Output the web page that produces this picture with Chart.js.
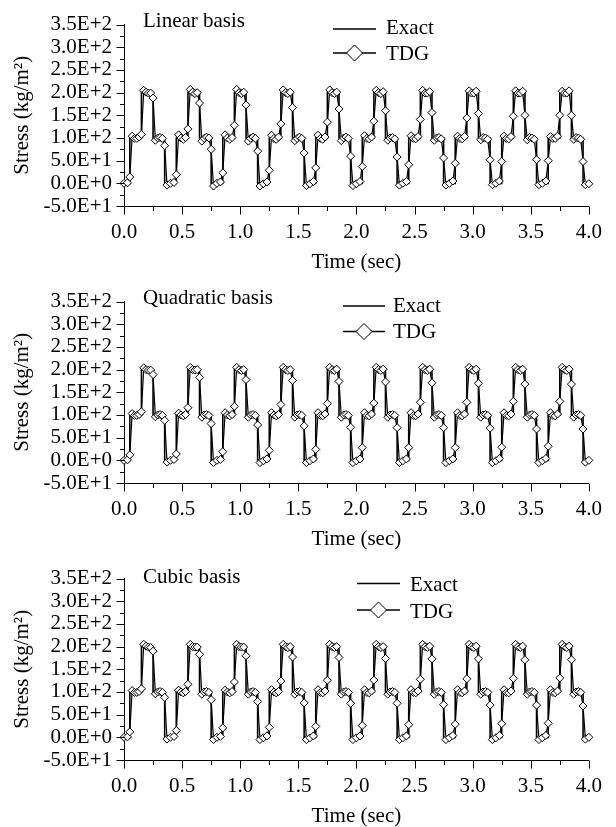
<!DOCTYPE html>
<html>
<head>
<meta charset="utf-8">
<script src="https://cdn.jsdelivr.net/npm/chart.js@4.4.1/dist/chart.umd.min.js"></script>
<style>
  html, body { margin: 0; padding: 0; background: #fff; overflow: hidden; }
  .panel { width: 616px; height: 277px; }
  canvas { display: block; }
</style>
</head>
<body>
<div class="panel"><canvas id="linear" width="616" height="277"></canvas></div>
<div class="panel"><canvas id="quadratic" width="616" height="277"></canvas></div>
<div class="panel"><canvas id="cubic" width="616" height="277"></canvas></div>
<script>
// axis ticks
const xTicks = [0, 0.5, 1.0, 1.5, 2.0, 2.5, 3.0, 3.5, 4.0];
const xMinor = [0.25, 0.75, 1.25, 1.75, 2.25, 2.75, 3.25, 3.75];
const yTicks = [-50, 0, 50, 100, 150, 200, 250, 300, 350];
const yMinor = [-25, 25, 75, 125, 175, 225, 275, 325];

// exact solution (stepped, value holds until next time)
const exactTime = [0, 0.05, 0.15, 0.25, 0.35, 0.45, 0.55, 0.65, 0.75, 0.85, 0.95,
  1.05, 1.15, 1.25, 1.35, 1.45, 1.55, 1.65, 1.75, 1.85, 1.95,
  2.05, 2.15, 2.25, 2.35, 2.45, 2.55, 2.65, 2.75, 2.85, 2.95,
  3.05, 3.15, 3.25, 3.35, 3.45, 3.55, 3.65, 3.75, 3.85, 3.95, 4.0];
const exactStress = [0,
  100, 200, 100, 0, 100, 200, 100, 0, 100, 200, 100, 0, 100, 200, 100, 0,
  100, 200, 100, 0, 100, 200, 100, 0, 100, 200, 100, 0, 100, 200, 100, 0,
  100, 200, 100, 0, 100, 200, 100, 0, 0];

// TDG output times
const tdgTime = [
  0.00, 0.03, 0.05, 0.07, 0.09, 0.11, 0.13, 0.15, 0.17, 0.19, 0.21, 0.23, 0.25, 0.27, 0.29, 0.31, 0.33, 0.35, 0.37,
  0.40, 0.43, 0.45, 0.47, 0.49, 0.51, 0.53, 0.55, 0.57, 0.59, 0.61, 0.63, 0.65, 0.67, 0.69, 0.71, 0.73, 0.75, 0.77,
  0.80, 0.83, 0.85, 0.87, 0.89, 0.91, 0.93, 0.95, 0.97, 0.99, 1.01, 1.03, 1.05, 1.07, 1.09, 1.11, 1.13, 1.15, 1.17,
  1.20, 1.23, 1.25, 1.27, 1.29, 1.31, 1.33, 1.35, 1.37, 1.39, 1.41, 1.43, 1.45, 1.47, 1.49, 1.51, 1.53, 1.55, 1.57,
  1.60, 1.63, 1.65, 1.67, 1.69, 1.71, 1.73, 1.75, 1.77, 1.79, 1.81, 1.83, 1.85, 1.87, 1.89, 1.91, 1.93, 1.95, 1.97,
  2.00, 2.03, 2.05, 2.07, 2.09, 2.11, 2.13, 2.15, 2.17, 2.19, 2.21, 2.23, 2.25, 2.27, 2.29, 2.31, 2.33, 2.35, 2.37,
  2.40, 2.43, 2.45, 2.47, 2.49, 2.51, 2.53, 2.55, 2.57, 2.59, 2.61, 2.63, 2.65, 2.67, 2.69, 2.71, 2.73, 2.75, 2.77,
  2.80, 2.83, 2.85, 2.87, 2.89, 2.91, 2.93, 2.95, 2.97, 2.99, 3.01, 3.03, 3.05, 3.07, 3.09, 3.11, 3.13, 3.15, 3.17,
  3.20, 3.23, 3.25, 3.27, 3.29, 3.31, 3.33, 3.35, 3.37, 3.39, 3.41, 3.43, 3.45, 3.47, 3.49, 3.51, 3.53, 3.55, 3.57,
  3.60, 3.63, 3.65, 3.67, 3.69, 3.71, 3.73, 3.75, 3.77, 3.79, 3.81, 3.83, 3.85, 3.87, 3.89, 3.91, 3.93, 3.95, 3.97,
  4.00];

const tdgLinear = [
  0, 1, 14, 104, 99, 99, 102, 108, 205, 201, 199, 199, 188, 95, 100, 101, 99, 83, -4,
  0, 2, 19, 107, 100, 97, 101, 120, 207, 201, 198, 200, 177, 93, 99, 102, 100, 75, -6,
  0, 3, 23, 107, 100, 97, 101, 128, 207, 200, 198, 201, 173, 93, 99, 102, 99, 71, -6,
  -1, 3, 29, 106, 99, 97, 102, 131, 206, 200, 198, 201, 167, 94, 99, 102, 99, 67, -5,
  -1, 4, 34, 106, 99, 97, 102, 135, 206, 200, 198, 201, 164, 94, 100, 102, 99, 60, -5,
  -1, 4, 37, 105, 99, 98, 102, 137, 205, 200, 198, 202, 160, 95, 100, 101, 98, 58, -4,
  0, 4, 41, 105, 99, 98, 103, 141, 205, 199, 199, 202, 156, 95, 100, 101, 98, 56, -4,
  0, 5, 44, 104, 99, 98, 103, 144, 204, 199, 199, 203, 154, 96, 101, 100, 97, 52, -3,
  0, 5, 48, 104, 99, 98, 103, 148, 204, 199, 199, 203, 150, 96, 101, 100, 97, 52, -3,
  0, 5, 50, 103, 99, 99, 104, 150, 203, 199, 199, 204, 150, 97, 101, 100, 97, 48, -3,
  -1];

const tdgQuadratic = [
  0, 1, 12, 103, 99, 99, 101, 107, 204, 200, 199, 199, 189, 96, 100, 101, 99, 88, -4,
  0, 2, 14, 104, 100, 98, 101, 116, 205, 200, 199, 200, 183, 95, 100, 101, 99, 81, -5,
  0, 2, 19, 105, 100, 98, 101, 119, 205, 200, 198, 200, 178, 95, 100, 101, 99, 78, -5,
  -1, 3, 22, 105, 100, 98, 101, 123, 205, 200, 198, 200, 176, 95, 100, 101, 99, 76, -5,
  -1, 3, 24, 105, 99, 98, 102, 125, 205, 200, 198, 201, 174, 95, 100, 101, 99, 73, -5,
  -1, 3, 28, 105, 99, 98, 102, 126, 205, 200, 198, 201, 173, 95, 100, 101, 99, 72, -5,
  -1, 3, 28, 105, 99, 98, 102, 128, 205, 200, 198, 201, 171, 95, 100, 101, 99, 72, -5,
  -1, 3, 28, 105, 99, 98, 102, 128, 205, 200, 198, 201, 170, 95, 100, 101, 99, 71, -5,
  -1, 4, 29, 105, 99, 98, 102, 130, 205, 200, 198, 201, 168, 95, 100, 101, 99, 69, -5,
  -1, 4, 31, 105, 99, 98, 102, 130, 205, 200, 198, 201, 168, 95, 100, 101, 99, 69, -4,
  0];

const tdgCubic = [
  0, 1, 12, 103, 99, 99, 101, 107, 205, 201, 199, 198, 190, 96, 100, 101, 99, 88, -4,
  0, 2, 15, 104, 100, 98, 101, 117, 205, 200, 199, 199, 183, 95, 100, 101, 99, 83, -5,
  0, 2, 21, 104, 100, 98, 101, 122, 205, 200, 199, 199, 180, 95, 100, 101, 99, 79, -5,
  -1, 3, 22, 105, 100, 98, 101, 124, 205, 200, 198, 200, 177, 95, 100, 101, 99, 76, -5,
  -1, 3, 24, 105, 99, 98, 102, 126, 205, 200, 198, 200, 176, 95, 100, 101, 99, 75, -5,
  -1, 3, 26, 105, 99, 98, 102, 126, 205, 200, 198, 200, 174, 95, 100, 101, 99, 75, -5,
  -1, 3, 28, 105, 99, 98, 102, 128, 205, 200, 198, 201, 173, 95, 100, 101, 99, 72, -5,
  -1, 4, 29, 105, 99, 98, 102, 129, 205, 200, 198, 201, 173, 95, 100, 101, 99, 71, -5,
  -1, 4, 30, 105, 99, 98, 102, 130, 205, 200, 198, 201, 171, 95, 100, 101, 99, 71, -5,
  -1, 4, 31, 105, 99, 98, 102, 131, 205, 200, 198, 201, 171, 95, 100, 101, 99, 69, -4,
  0];

const FONT_FAMILY = '"Liberation Serif", "Times New Roman", serif';
const FONT_SIZE = 21;
const font = { family: FONT_FAMILY, size: FONT_SIZE };

// draws minor/major ticks, the panel caption and the hand-placed legend
const decor = {
  id: 'decor',
  afterDraw(chart, args, opts) {
    const { ctx, chartArea } = chart;
    const x = chart.scales.x;
    const y = chart.scales.y;
    ctx.save();
    ctx.strokeStyle = '#000';
    ctx.lineWidth = 1;
    ctx.beginPath();
    const bottom = Math.round(chartArea.bottom) + 0.5;
    const left = Math.round(chartArea.left) + 0.5;
    xTicks.forEach(v => {
      const px = Math.round(x.getPixelForValue(v)) + 0.5;
      ctx.moveTo(px, bottom); ctx.lineTo(px, bottom + 8);
    });
    xMinor.forEach(v => {
      const px = Math.round(x.getPixelForValue(v)) + 0.5;
      ctx.moveTo(px, bottom); ctx.lineTo(px, bottom + 4.5);
    });
    yTicks.forEach(v => {
      const py = Math.round(y.getPixelForValue(v)) + 0.5;
      ctx.moveTo(left, py); ctx.lineTo(left - 8, py);
    });
    yMinor.forEach(v => {
      const py = Math.round(y.getPixelForValue(v)) + 0.5;
      ctx.moveTo(left, py); ctx.lineTo(left - 4.5, py);
    });
    ctx.stroke();

    ctx.fillStyle = '#000';
    ctx.font = FONT_SIZE + 'px ' + FONT_FAMILY;
    ctx.textBaseline = 'alphabetic';
    ctx.textAlign = 'left';
    ctx.fillText(opts.caption, 143, opts.captionY);

    const lg = opts.legend;
    ctx.lineWidth = 1.4;
    ctx.beginPath();
    ctx.moveTo(lg.x0, lg.exactY); ctx.lineTo(lg.x1, lg.exactY);
    ctx.moveTo(lg.x0, lg.tdgY); ctx.lineTo(lg.x1, lg.tdgY);
    ctx.stroke();
    const dx = (lg.x0 + lg.x1) / 2, r = 8;
    ctx.beginPath();
    ctx.moveTo(dx - r, lg.tdgY); ctx.lineTo(dx, lg.tdgY - r);
    ctx.lineTo(dx + r, lg.tdgY); ctx.lineTo(dx, lg.tdgY + r);
    ctx.closePath();
    ctx.fillStyle = '#fff';
    ctx.fill();
    ctx.lineWidth = 1;
    ctx.stroke();
    ctx.fillStyle = '#000';
    ctx.fillText('Exact', lg.textX, lg.exactText);
    ctx.fillText('TDG', lg.textX, lg.tdgText);
    ctx.restore();
  }
};

function drawPanel(id, values, caption, captionY, legend) {
  const tdgPoints = tdgTime.map((t, i) => ({ x: t, y: values[i] }));
  const exactPoints = exactTime.map((t, i) => ({ x: t, y: exactStress[i] }));

  new Chart(document.getElementById(id), {
    type: 'line',
    data: {
      datasets: [
        {
          label: 'TDG',
          data: tdgPoints,
          borderColor: '#000',
          borderWidth: 1.2,
          pointStyle: 'rectRot',
          pointRadius: 4,
          pointBorderWidth: 1,
          pointBackgroundColor: '#fff',
          pointBorderColor: '#000',
          tension: 0,
          clip: false
        },
        {
          label: 'Exact',
          data: exactPoints,
          borderColor: '#000',
          borderWidth: 1.6,
          stepped: 'before',
          pointRadius: 0,
          clip: false
        }
      ]
    },
    options: {
      responsive: false,
      animation: false,
      events: [],
      layout: { padding: { top: 14, right: 24, left: 0, bottom: 0 } },
      plugins: {
        legend: { display: false },
        tooltip: { enabled: false },
        decor: { caption, captionY, legend }
      },
      scales: {
        x: {
          type: 'linear',
          min: 0,
          max: 4,
          afterBuildTicks: s => { s.ticks = xTicks.map(v => ({ value: v })); },
          afterFit: s => { s.height = 71; },
          grid: { drawOnChartArea: false, drawTicks: false },
          border: { display: true, color: '#000', width: 1 },
          ticks: {
            color: '#000', font, padding: 14, autoSkip: false, maxRotation: 0,
            callback: v => Number(v).toFixed(1)
          },
          title: {
            display: true, text: 'Time (sec)', color: '#000', font,
            padding: { top: 0, bottom: 2 }
          }
        },
        y: {
          type: 'linear',
          min: -50,
          max: 350,
          afterBuildTicks: s => { s.ticks = yTicks.map(v => ({ value: v })); },
          afterFit: s => { s.width = 124; },
          grid: { drawOnChartArea: false, drawTicks: false },
          border: { display: true, color: '#000', width: 1 },
          ticks: {
            color: '#000', font, padding: 12, autoSkip: false,
            callback: v => Number(v).toExponential(1).toUpperCase()
          },
          title: {
            display: true, text: 'Stress (kg/m²)', color: '#000', font,
            padding: { top: 10, bottom: 0 }
          }
        }
      }
    },
    plugins: [decor]
  });
}

drawPanel('linear', tdgLinear, 'Linear basis', 26.5,
  { x0: 333, x1: 376, exactY: 29, tdgY: 53, textX: 386, exactText: 33.5, tdgText: 60 });
drawPanel('quadratic', tdgQuadratic, 'Quadratic basis', 27,
  { x0: 343, x1: 385, exactY: 29, tdgY: 54.5, textX: 393, exactText: 34.5, tdgText: 61 });
drawPanel('cubic', tdgCubic, 'Cubic basis', 28.5,
  { x0: 357, x1: 400, exactY: 29.5, tdgY: 56, textX: 410, exactText: 36.5, tdgText: 64 });
</script>
</body>
</html>
